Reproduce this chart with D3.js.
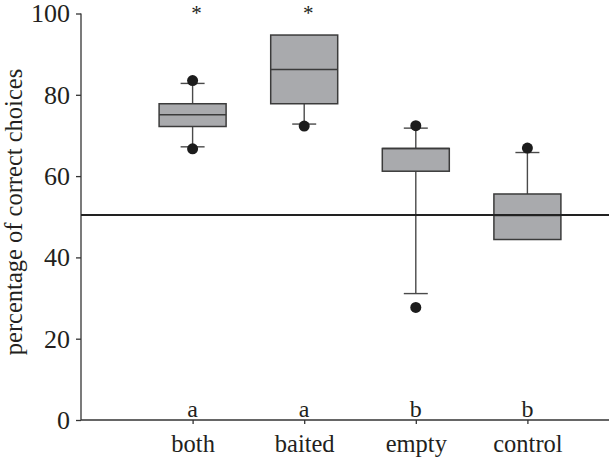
<!DOCTYPE html>
<html>
<head>
<meta charset="utf-8">
<script src="https://cdn.jsdelivr.net/npm/d3@7"></script>
<style>
  body { margin: 0; background: #fff; }
  text { font-family: "Liberation Serif", "DejaVu Serif", serif; fill: #231f20; }
</style>
</head>
<body>
<svg id="chart" width="609" height="460"></svg>
<script>
// data
var groups = ["both", "baited", "empty", "control"];
var letters = ["a", "a", "b", "b"];
var stars = ["*", "*", "", ""];
var q1 = [72.2, 77.8, 61.2, 44.4];
var median = [75.1, 86.2, 66.8, 50.3];
var q3 = [77.8, 94.7, 66.8, 55.6];
var whiskLow = [67.2, 72.8, 31.1, 44.4];
var whiskHigh = [82.8, 94.7, 71.8, 65.8];
var outliers = [[83.5, 66.7], [72.3], [72.4, 27.7], [66.9]];
var yTicks = [0, 20, 40, 60, 80, 100];
var chance = 50.4;

var svg = d3.select("#chart");
var mLeft = 81, mRight = 609, mTop = 13.5, mBottom = 420;

// point scale: padding 1 leaves one step before the first group
var x = d3.scalePoint().domain(groups).range([mLeft, 639]).padding(1);
var y = d3.scaleLinear().domain([0, 100]).range([mBottom, mTop]);

var boxW = 67, capW = 24;

// y axis
var yAxis = svg.append("g")
  .attr("transform", "translate(" + mLeft + ",0)")
  .call(d3.axisLeft(y).tickValues(yTicks).tickSize(5).tickPadding(6));
yAxis.select(".domain").attr("stroke", "#333").attr("stroke-width", 1.3).attr("d", "M0," + mTop + "V" + mBottom);
yAxis.selectAll(".tick line").attr("stroke", "#333").attr("stroke-width", 1.3);
yAxis.selectAll(".tick text").attr("font-size", 26).attr("font-family", "Liberation Serif").attr("fill", "#231f20");

// x axis
var xAxis = svg.append("g")
  .attr("transform", "translate(0," + mBottom + ")")
  .call(d3.axisBottom(x).tickSize(4).tickPadding(11));
xAxis.select(".domain").attr("stroke", "#333").attr("stroke-width", 1.3).attr("d", "M" + mLeft + ",0H" + mRight);
xAxis.selectAll(".tick line").attr("stroke", "#333").attr("stroke-width", 1.3);
xAxis.selectAll(".tick text").attr("font-size", 24.5).attr("font-family", "Liberation Serif").attr("fill", "#231f20");

// y label
svg.append("text")
  .attr("transform", "translate(22,212) rotate(-90)")
  .attr("text-anchor", "middle")
  .attr("font-size", 24.5)
  .text("percentage of correct choices");

var g = svg.selectAll(".grp").data(groups).enter().append("g").attr("class", "grp");

// whiskers
g.append("line")
  .attr("x1", function(d) { return x(d); }).attr("x2", function(d) { return x(d); })
  .attr("y1", function(d, i) { return y(whiskLow[i]); })
  .attr("y2", function(d, i) { return y(whiskHigh[i]); })
  .attr("stroke", "#4a4a4a").attr("stroke-width", 1.4);
g.append("line")
  .attr("x1", function(d) { return x(d) - capW / 2; }).attr("x2", function(d) { return x(d) + capW / 2; })
  .attr("y1", function(d, i) { return y(whiskLow[i]); }).attr("y2", function(d, i) { return y(whiskLow[i]); })
  .attr("stroke", "#4a4a4a").attr("stroke-width", 1.4)
  .style("display", function(d, i) { return whiskLow[i] < q1[i] ? null : "none"; });
g.append("line")
  .attr("x1", function(d) { return x(d) - capW / 2; }).attr("x2", function(d) { return x(d) + capW / 2; })
  .attr("y1", function(d, i) { return y(whiskHigh[i]); }).attr("y2", function(d, i) { return y(whiskHigh[i]); })
  .attr("stroke", "#4a4a4a").attr("stroke-width", 1.4)
  .style("display", function(d, i) { return whiskHigh[i] > q3[i] ? null : "none"; });

// boxes
g.append("rect")
  .attr("x", function(d) { return x(d) - boxW / 2; })
  .attr("width", boxW)
  .attr("y", function(d, i) { return y(q3[i]); })
  .attr("height", function(d, i) { return y(q1[i]) - y(q3[i]); })
  .attr("fill", "#a9aaad").attr("stroke", "#3b3b3b").attr("stroke-width", 1.5);
g.append("line")
  .attr("x1", function(d) { return x(d) - boxW / 2; }).attr("x2", function(d) { return x(d) + boxW / 2; })
  .attr("y1", function(d, i) { return y(median[i]); }).attr("y2", function(d, i) { return y(median[i]); })
  .attr("stroke", "#3b3b3b").attr("stroke-width", 1.5);

// outliers
g.selectAll("circle")
  .data(function(d, i) { return outliers[i].map(function(v) { return { g: d, v: v }; }); })
  .enter().append("circle")
  .attr("cx", function(d) { return x(d.g); })
  .attr("cy", function(d) { return y(d.v); })
  .attr("r", 5.5)
  .attr("fill", "#1c1c1c");

// chance line
svg.append("line")
  .attr("x1", mLeft).attr("x2", mRight)
  .attr("y1", y(chance)).attr("y2", y(chance))
  .attr("stroke", "#222").attr("stroke-width", 2);

// significance letters and stars
g.append("text")
  .attr("x", function(d) { return x(d); })
  .attr("y", 417)
  .attr("text-anchor", "middle")
  .attr("font-size", 24)
  .text(function(d, i) { return letters[i]; });
g.append("text")
  .attr("x", function(d) { return x(d) + 4; })
  .attr("y", 20)
  .attr("text-anchor", "middle")
  .attr("font-size", 21)
  .text(function(d, i) { return stars[i]; });
</script>
</body>
</html>
